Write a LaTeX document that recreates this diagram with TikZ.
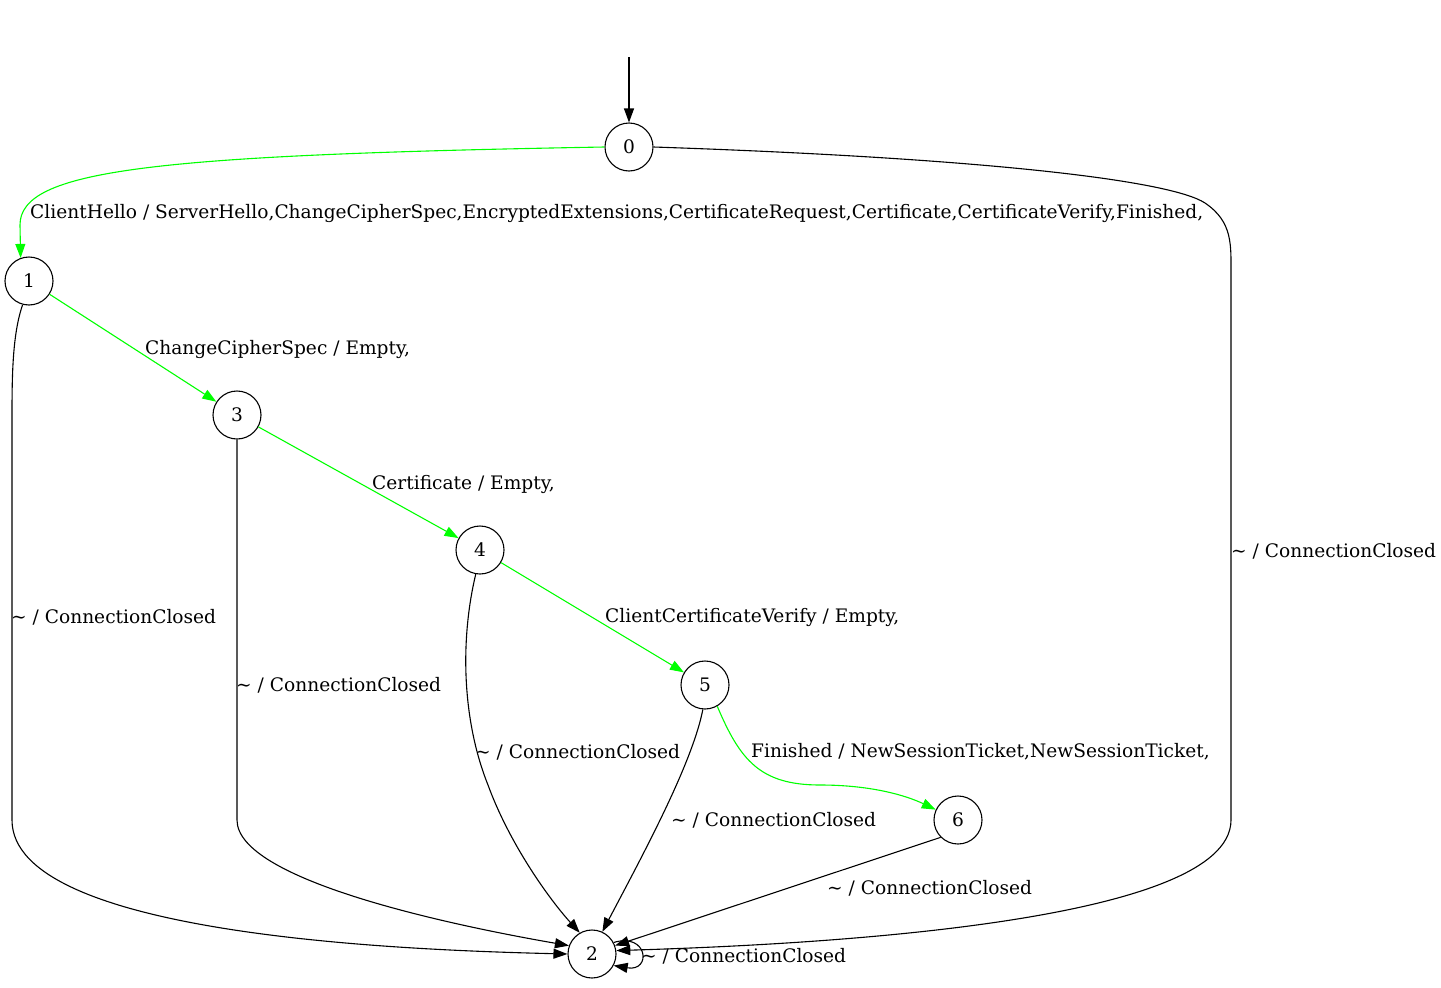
\documentclass[tikz,border=0pt]{standalone}
\usepackage{fontspec}
\setmainfont{DejaVu Serif}
\usetikzlibrary{arrows.meta}
\definecolor{okgreen}{RGB}{0,255,0}
\begin{document}
\begin{tikzpicture}[x=1pt,y=-1pt,
  state/.style={draw,circle,minimum size=48pt,inner sep=0pt,line width=1.1pt,font=\fontsize{18.6}{21}\selectfont},
  lbl/.style={anchor=west,inner sep=0pt,font=\fontsize{18.6}{21}\selectfont},
  edge/.style={line width=1.1pt,-{Triangle[length=14pt,width=10pt]}},
  ok/.style={edge,color=okgreen}]
\useasboundingbox (0,0) rectangle (1441,988);
\fill[white] (0,0) rectangle (1441,988);

% states
\node[state] (n0) at (629,147) {0};
\node[state] (n1) at (29,281) {1};
\node[state] (n3) at (237,415) {3};
\node[state] (n4) at (480,550) {4};
\node[state] (n5) at (705,685) {5};
\node[state] (n6) at (958,820) {6};
\node[state] (n2) at (592,954) {2};
\coordinate (start) at (629,57);

% initial arrow
\draw[edge] (start) -- (n0);

% handshake path
\draw[ok] (n0.180) .. controls (150,155) and (20,170) .. (20,225) -- (n1.110);
\draw[ok] (n1) -- (n3);
\draw[ok] (n3) -- (n4);
\draw[ok] (n4) -- (n5);
\draw[ok] (n5.300) .. controls (740,760) and (760,785) .. (820,785)
  .. controls (870,785) and (905,795) .. (n6.155);

% connection closed transitions
\draw[edge] (n0.0) .. controls (980,158) and (1170,180) .. (1205,203)
  .. controls (1233,222) and (1231,245) .. (1231,275) -- (1231,820)
  .. controls (1231,925) and (800,945) .. (n2.8);
\draw[edge] (n1.255) .. controls (12,335) and (12,380) .. (12,420) -- (12,820)
  .. controls (12,935) and (400,950) .. (n2.180);
\draw[edge] (n3.270) -- (237,820) .. controls (237,880) and (450,925) .. (n2.160);
\draw[edge] (n4.260) .. controls (460,640) and (462,720) .. (488,785)
  .. controls (510,845) and (550,900) .. (n2.120);
\draw[edge] (n5.265) .. controls (692,765) and (640,860) .. (n2.65);
\draw[edge] (n6.225) -- (n2.20);
\draw[edge] (n2.28) .. controls (648,932) and (652,972) .. (n2.-28);

% labels
\node[lbl] (l01) at (30,213) {ClientHello / ServerHello,ChangeCipherSpec,EncryptedExtensions,CertificateRequest,Certificate,CertificateVerify,Finished,};
\node[lbl] (l02) at (1231,551) {\textasciitilde{} / ConnectionClosed};
\node[lbl] (l13) at (145,349) {ChangeCipherSpec / Empty,};
\node[lbl] (l12) at (11,617) {\textasciitilde{} / ConnectionClosed};
\node[lbl] (l34) at (372,484) {Certificate / Empty,};
\node[lbl] (l32) at (236,685) {\textasciitilde{} / ConnectionClosed};
\node[lbl] (l45) at (605,617) {ClientCertificateVerify / Empty,};
\node[lbl] (l42) at (475,752) {\textasciitilde{} / ConnectionClosed};
\node[lbl] (l56) at (751,752) {Finished / NewSessionTicket,NewSessionTicket,};
\node[lbl] (l52) at (671,820) {\textasciitilde{} / ConnectionClosed};
\node[lbl] (l62) at (827,888) {\textasciitilde{} / ConnectionClosed};
\node[lbl] (l22) at (641,956) {\textasciitilde{} / ConnectionClosed};
\end{tikzpicture}
\end{document}
